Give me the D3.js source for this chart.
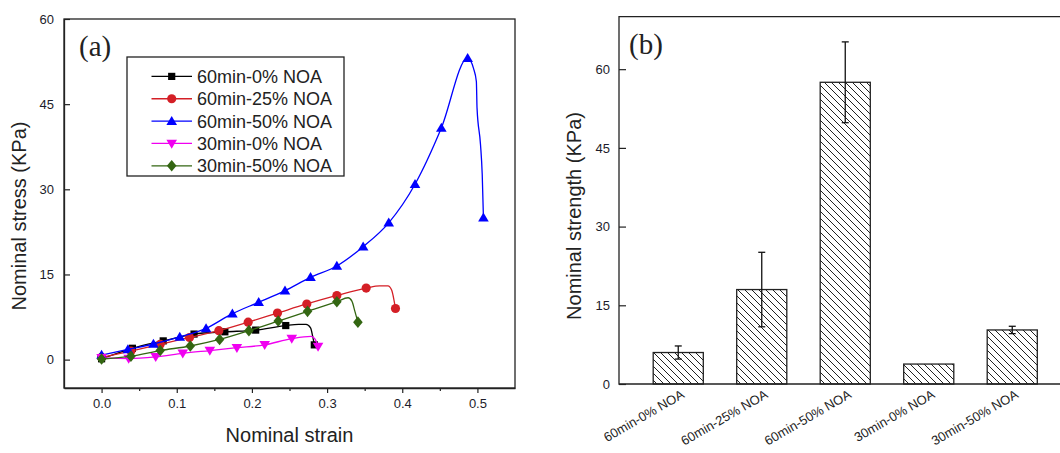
<!DOCTYPE html>
<html><head><meta charset="utf-8">
<script src="https://cdn.jsdelivr.net/npm/d3@7"></script>
<style>
body{margin:0;background:#fff}
svg{display:block}
text{font-family:"Liberation Sans",Arial,sans-serif}
text.serif{font-family:"Liberation Serif","Times New Roman",serif}
</style>
</head><body>
<svg id="c" width="1060" height="453"></svg>
<script>
// ---------- DATA ----------
const seriesNames = ["60min-0% NOA","60min-25% NOA","60min-50% NOA","30min-0% NOA","30min-50% NOA"];

// panel (a): stress-strain curves (marker points + unmarked points along the failure drop)
const strain60_0  = [0, 0.041, 0.082, 0.123, 0.164, 0.205, 0.245, 0.283];
const stress60_0  = [0.15, 2.0, 3.3, 4.5, 4.9, 5.2, 6.0, 2.6];
const tailStrain60_0 = [0.262, 0.272, 0.278, 0.281];
const tailStress60_0 = [6.2, 6.2, 5.6, 4.0];

const strain60_25 = [0, 0.039, 0.078, 0.117, 0.156, 0.195, 0.234, 0.273, 0.313, 0.352, 0.391];
const stress60_25 = [0.4, 1.5, 2.7, 3.9, 5.1, 6.6, 8.2, 9.8, 11.3, 12.6, 9.0];
const tailStrain60_25 = [0.370, 0.381, 0.386, 0.389];
const tailStress60_25 = [13.0, 13.0, 12.2, 10.5];

const strain60_50 = [0, 0.035, 0.069, 0.104, 0.139, 0.174, 0.209, 0.244, 0.278, 0.313, 0.348, 0.382, 0.417, 0.452, 0.487, 0.508];
const stress60_50 = [0.8, 1.8, 2.75, 4.0, 5.5, 8.1, 10.1, 12.15, 14.5, 16.5, 19.9, 24.1, 30.9, 40.8, 53.1, 25.0];
const tailStrain60_50 = [0.4948, 0.4986, 0.4995, 0.5041, 0.5064];
const tailStress60_50 = [51.3, 49.0, 44.3, 37.9, 32.6];

const strain30_0  = [0, 0.036, 0.072, 0.108, 0.144, 0.180, 0.217, 0.253, 0.288];
const stress30_0  = [0.3, 0.2, 0.5, 1.1, 1.6, 2.1, 2.6, 3.7, 2.3];
const tailStrain30_0 = [0.279, 0.284];
const tailStress30_0 = [4.1, 3.6];

const strain30_50 = [0, 0.039, 0.078, 0.118, 0.157, 0.196, 0.235, 0.274, 0.313, 0.341];
const stress30_50 = [0.1, 0.6, 1.6, 2.4, 3.55, 5.1, 6.8, 8.5, 10.2, 6.6];
const tailStrain30_50 = [0.328, 0.333, 0.337];
const tailStress30_50 = [10.9, 10.3, 8.5];

const xTicksA = [0, 0.1, 0.2, 0.3, 0.4, 0.5];
const xMinorTicksA = [0.05, 0.15, 0.25, 0.35, 0.45];
const yTicksA = [0, 15, 30, 45, 60];

// panel (b): nominal strength bars
const barCategories = ["60min-0% NOA","60min-25% NOA","60min-50% NOA","30min-0% NOA","30min-50% NOA"];
const barValues = [6.0, 18.0, 57.5, 3.8, 10.3];
const barErrors = [1.25, 7.1, 7.7, 0, 0.7];
const yTicksB = [0, 15, 30, 45, 60];

// ---------- STYLE ----------
const colors = ["#000000", "#d41f26", "#0000ff", "#f000f0", "#336612"];
const shapes = ["square", "circle", "triUp", "triDown", "diamond"];
const axisColor = "#222";
const tickColor = "#1c1c2a";

const svg = d3.select("#c");

function markerPath(shape) {
  switch (shape) {
    case "square": return "M-3.6,-3.6H3.6V3.6H-3.6Z";
    case "circle": return d3.symbol(d3.symbolCircle, 66)();
    case "triUp": return "M0,-5.2L5.3,3.8L-5.3,3.8Z";
    case "triDown": return "M0,5.2L5.3,-3.8L-5.3,-3.8Z";
    case "diamond": return "M0,-5.8L4.8,0L0,5.8L-4.8,0Z";
  }
}

// ---------- PANEL A ----------
const A = {L: 64, R: 515, T: 19, B: 388};
const xA = d3.scaleLinear().domain([-0.05, 0.55]).range([A.L, A.R]);
const yA = d3.scaleLinear().domain([-5, 60]).range([A.B, A.T]);

const gA = svg.append("g");

const series = [
  {s: strain60_0, v: stress60_0, ts: tailStrain60_0, tv: tailStress60_0},
  {s: strain60_25, v: stress60_25, ts: tailStrain60_25, tv: tailStress60_25},
  {s: strain60_50, v: stress60_50, ts: tailStrain60_50, tv: tailStress60_50},
  {s: strain30_0, v: stress30_0, ts: tailStrain30_0, tv: tailStress30_0},
  {s: strain30_50, v: stress30_50, ts: tailStrain30_50, tv: tailStress30_50}
];

const line = d3.line().x(d => xA(d[0])).y(d => yA(d[1])).curve(d3.curveMonotoneX);

series.forEach((ser, i) => {
  const marks = ser.s.map((s, k) => [s, ser.v[k]]);
  const tail = ser.ts.map((s, k) => [s, ser.tv[k]]);
  const all = marks.concat(tail).sort((a, b) => a[0] - b[0]);
  const g = gA.append("g");
  g.append("path").attr("d", line(all)).attr("fill", "none")
    .attr("stroke", colors[i]).attr("stroke-width", 1.3);
  g.selectAll("path.m").data(marks).join("path").attr("class", "m")
    .attr("d", markerPath(shapes[i]))
    .attr("transform", d => `translate(${xA(d[0])},${yA(d[1])})`)
    .attr("fill", colors[i]);
});

// frame
gA.append("rect").attr("x", A.L).attr("y", A.T).attr("width", A.R - A.L).attr("height", A.B - A.T)
  .attr("fill", "none").attr("stroke", axisColor).attr("stroke-width", 1.3);

// x axis
const xAxisA = d3.axisBottom(xA).tickValues(xTicksA).tickFormat(d3.format(".1f"))
  .tickSize(5).tickSizeOuter(0).tickPadding(6);
const gx = gA.append("g").attr("transform", `translate(0,${A.B})`).call(xAxisA);
gx.select(".domain").attr("stroke", axisColor).attr("stroke-width", 1.3);
gx.selectAll(".tick line").attr("stroke", axisColor).attr("stroke-width", 1.2);
gx.selectAll(".tick text").attr("font-size", 13).attr("fill", tickColor);
const gxm = gA.append("g").attr("transform", `translate(0,${A.B})`)
  .call(d3.axisBottom(xA).tickValues(xMinorTicksA).tickSize(3).tickSizeOuter(0).tickFormat(""));
gxm.select(".domain").remove();
gxm.selectAll(".tick line").attr("stroke", axisColor).attr("stroke-width", 1.2);

// y axis
const yAxisA = d3.axisLeft(yA).tickValues(yTicksA).tickSize(-6).tickSizeOuter(0).tickPadding(10);
const gy = gA.append("g").attr("transform", `translate(${A.L},0)`).call(yAxisA);
gy.select(".domain").attr("stroke", axisColor).attr("stroke-width", 1.3);
gy.selectAll(".tick line").attr("stroke", axisColor).attr("stroke-width", 1.2);
gy.selectAll(".tick text").attr("font-size", 13).attr("fill", tickColor);

// titles
gA.append("text").attr("x", (A.L + A.R) / 2).attr("y", 442).attr("text-anchor", "middle")
  .attr("font-size", 20).attr("fill", "#222").text("Nominal strain");
gA.append("text").attr("transform", "translate(26,216) rotate(-90)").attr("text-anchor", "middle")
  .attr("font-size", 20).attr("fill", "#222").text("Nominal stress (KPa)");
gA.append("text").attr("class", "serif").attr("x", 79).attr("y", 56).attr("font-size", 29)
  .attr("fill", "#222").text("(a)");

// legend
const leg = gA.append("g");
leg.append("rect").attr("x", 127).attr("y", 57).attr("width", 217).attr("height", 119)
  .attr("fill", "#fff").attr("stroke", "#222").attr("stroke-width", 1.3);
seriesNames.forEach((name, i) => {
  const yy = 76.4 + i * 22.35;
  leg.append("line").attr("x1", 151.5).attr("x2", 192).attr("y1", yy).attr("y2", yy)
    .attr("stroke", colors[i]).attr("stroke-width", 1.3);
  leg.append("path").attr("d", markerPath(shapes[i])).attr("transform", `translate(171.7,${yy})`)
    .attr("fill", colors[i]);
  leg.append("text").attr("x", 197).attr("y", yy).attr("dy", "0.36em").attr("font-size", 18)
    .attr("fill", "#222").text(name);
});

// ---------- PANEL B ----------
const Bp = {L: 619, R: 1070, T: 16.7, B: 384};
const yB = d3.scaleLinear().domain([0, 70]).range([Bp.B, Bp.T]);
const xB = d3.scaleBand().domain(barCategories).range([636.5, 1054]).paddingInner(0.4).paddingOuter(0.2);

const defs = svg.append("defs");
const pat = defs.append("pattern").attr("id", "hatch").attr("patternUnits", "userSpaceOnUse")
  .attr("width", 7).attr("height", 7);
pat.append("rect").attr("width", 7).attr("height", 7).attr("fill", "#fff");
pat.append("path").attr("d", "M0,0L7,7M-1,6L1,8M6,-1L8,1").attr("stroke", "#222").attr("stroke-width", 1);

const gB = svg.append("g");
gB.selectAll("rect.bar").data(barCategories).join("rect").attr("class", "bar")
  .attr("x", d => xB(d)).attr("width", xB.bandwidth())
  .attr("y", (d, i) => yB(barValues[i])).attr("height", (d, i) => yB(0) - yB(barValues[i]))
  .attr("fill", "url(#hatch)").attr("stroke", "#222").attr("stroke-width", 1.3);

// error bars
barCategories.forEach((c, i) => {
  if (!barErrors[i]) return;
  const cx = xB(c) + xB.bandwidth() / 2;
  const y1 = yB(barValues[i] + barErrors[i]), y0 = yB(barValues[i] - barErrors[i]);
  const g = gB.append("g").attr("stroke", "#111").attr("stroke-width", 1.3);
  g.append("line").attr("x1", cx).attr("x2", cx).attr("y1", y1).attr("y2", y0);
  g.append("line").attr("x1", cx - 3.5).attr("x2", cx + 3.5).attr("y1", y1).attr("y2", y1);
  g.append("line").attr("x1", cx - 3.5).attr("x2", cx + 3.5).attr("y1", y0).attr("y2", y0);
});

// frame
gB.append("path").attr("d", `M${Bp.R},${Bp.T}H${Bp.L}V${Bp.B}H${Bp.R}`)
  .attr("fill", "none").attr("stroke", axisColor).attr("stroke-width", 1.3);

const yAxisB = d3.axisLeft(yB).tickValues(yTicksB).tickSize(-7).tickSizeOuter(0).tickPadding(9);
const gyB = gB.append("g").attr("transform", `translate(${Bp.L},0)`).call(yAxisB);
gyB.select(".domain").remove();
gyB.selectAll(".tick line").attr("stroke", axisColor).attr("stroke-width", 1.2);
gyB.selectAll(".tick text").attr("font-size", 13).attr("fill", tickColor);

// category labels
gB.selectAll("text.cat").data(barCategories).join("text").attr("class", "cat")
  .attr("transform", d => `translate(${xB(d) + xB.bandwidth() / 2 + 7},${Bp.B + 13}) rotate(-30)`)
  .attr("text-anchor", "end").attr("font-size", 13).attr("fill", "#222").text(d => d);

gB.append("text").attr("transform", "translate(581,216) rotate(-90)").attr("text-anchor", "middle")
  .attr("font-size", 20).attr("fill", "#222").text("Nominal strength (KPa)");
gB.append("text").attr("class", "serif").attr("x", 629).attr("y", 54).attr("font-size", 29)
  .attr("fill", "#222").text("(b)");
</script>
</body></html>
